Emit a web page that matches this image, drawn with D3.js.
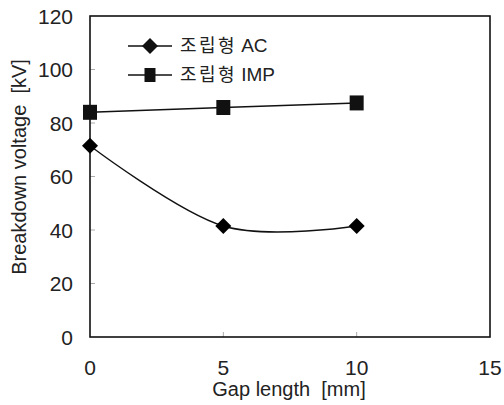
<!DOCTYPE html>
<html>
<head>
<meta charset="utf-8">
<script src="https://d3js.org/d3.v7.min.js"></script>
<style>
  body { margin: 0; background: #fff; }
  text { font-family: "Liberation Sans", Arial, sans-serif; fill: #222; white-space: pre; }
  .kr { font-family: "Noto Sans CJK KR", "Liberation Sans", sans-serif; }
</style>
</head>
<body>
<div id="chart"></div>
<script>
// data
var gap = [0, 5, 10];
var acValues = [71.5, 41.5, 41.5];
var impValues = [84, 85.8, 87.5];
var seriesNames = ["조립형", "조립형"];
var seriesTags = ["AC", "IMP"];
var xTicks = [0, 5, 10, 15];
var yTicks = [0, 20, 40, 60, 80, 100, 120];

var width = 504, height = 405;
var margin = {left: 90, right: 14, top: 16, bottom: 68};

var svg = d3.select("#chart").append("svg")
  .attr("width", width)
  .attr("height", height);

var x = d3.scaleLinear().domain([0, 15]).range([margin.left, width - margin.right]);
var y = d3.scaleLinear().domain([0, 120]).range([height - margin.bottom, margin.top]);

// small inner ticks
svg.append("g").selectAll("line")
  .data(yTicks.slice(1, -1))
  .enter().append("line")
  .attr("x1", x(0)).attr("x2", x(0) + 5)
  .attr("y1", d => y(d)).attr("y2", d => y(d))
  .attr("stroke", "#aaa").attr("stroke-width", 1);
svg.append("g").selectAll("line")
  .data(xTicks.slice(1, -1))
  .enter().append("line")
  .attr("x1", d => x(d)).attr("x2", d => x(d))
  .attr("y1", y(0)).attr("y2", y(0) - 5)
  .attr("stroke", "#aaa").attr("stroke-width", 1);

// plot frame
svg.append("rect")
  .attr("x", x(0)).attr("y", y(120))
  .attr("width", x(15) - x(0)).attr("height", y(0) - y(120))
  .attr("fill", "none").attr("stroke", "#111").attr("stroke-width", 1.6);

// tick labels
svg.append("g").selectAll("text")
  .data(yTicks)
  .enter().append("text")
  .attr("x", x(0) - 17).attr("y", d => y(d))
  .attr("dy", "0.36em")
  .attr("text-anchor", "end")
  .attr("font-size", 21)
  .text(d => d);
svg.append("g").selectAll("text")
  .data(xTicks)
  .enter().append("text")
  .attr("x", d => x(d)).attr("y", 375)
  .attr("text-anchor", "middle")
  .attr("font-size", 21)
  .text(d => d);

// axis titles
svg.append("text")
  .attr("x", 289).attr("y", 396)
  .attr("text-anchor", "middle")
  .attr("font-size", 20)
  .text("Gap length  [mm]");
svg.append("text")
  .attr("transform", "translate(26,167) rotate(-90)")
  .attr("text-anchor", "middle")
  .attr("font-size", 20)
  .text("Breakdown voltage  [kV]");

// lines
var acLine = d3.line()
  .x((d, i) => x(gap[i])).y(d => y(d))
  .curve(d3.curveCardinal.tension(0));
var impLine = d3.line()
  .x((d, i) => x(gap[i])).y(d => y(d));

svg.append("path").attr("d", acLine(acValues))
  .attr("fill", "none").attr("stroke", "#111").attr("stroke-width", 1.4);
svg.append("path").attr("d", impLine(impValues))
  .attr("fill", "none").attr("stroke", "#111").attr("stroke-width", 1.4);

var diamond = "M0,-8L8,0L0,8L-8,0Z";
var square = "M-7,-7.5L7,-7.5L7,7.5L-7,7.5Z";
var smallSquare = "M-5.5,-7L5.5,-7L5.5,7L-5.5,7Z";

svg.append("g").selectAll("path")
  .data(acValues)
  .enter().append("path")
  .attr("transform", (d, i) => "translate(" + x(gap[i]) + "," + y(d) + ")")
  .attr("d", diamond).attr("fill", "#000");
svg.append("g").selectAll("path")
  .data(impValues)
  .enter().append("path")
  .attr("transform", (d, i) => "translate(" + x(gap[i]) + "," + y(d) + ")")
  .attr("d", square).attr("fill", "#111");

// legend
var legend = svg.append("g");
[diamond, smallSquare].forEach(function(shape, i) {
  var ly = 46 + i * 29;
  legend.append("line")
    .attr("x1", 128).attr("x2", 172).attr("y1", ly).attr("y2", ly)
    .attr("stroke", "#111").attr("stroke-width", 1.4);
  legend.append("path")
    .attr("transform", "translate(150," + ly + ")")
    .attr("d", shape).attr("fill", "#111");
  var t = legend.append("text")
    .attr("x", 180).attr("y", ly)
    .attr("dy", "0.36em");
  t.append("tspan").attr("class", "kr")
    .attr("font-size", 18).attr("letter-spacing", 2.5)
    .text(seriesNames[i]);
  t.append("tspan")
    .attr("font-size", 19).attr("dx", 4)
    .text(seriesTags[i]);
});
</script>
</body>
</html>
